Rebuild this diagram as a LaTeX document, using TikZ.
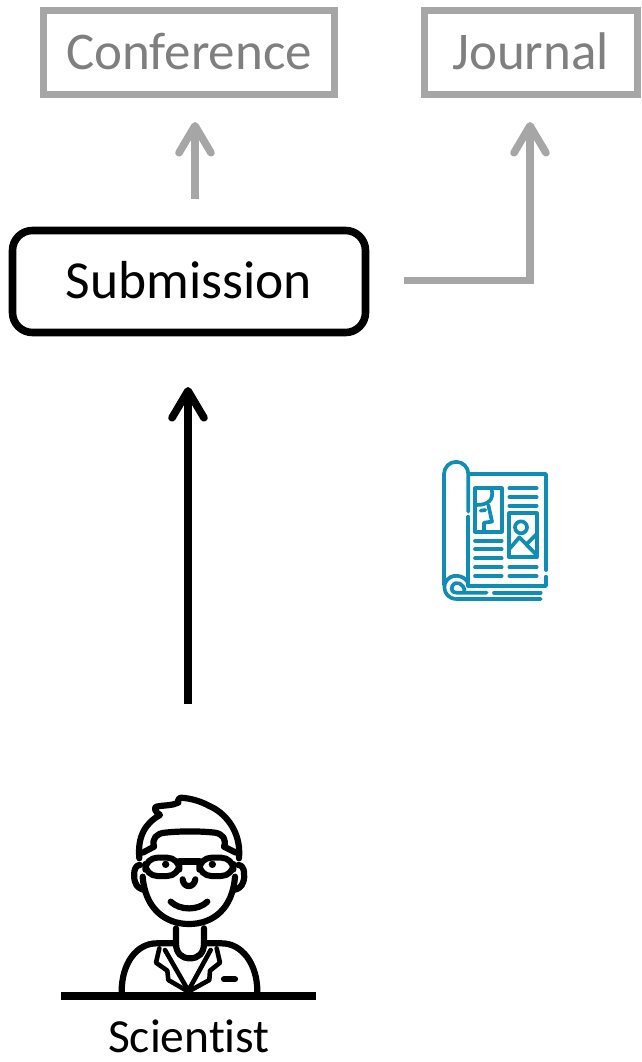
\documentclass[tikz,border=0pt]{standalone}
\usepackage{fontspec}
\setmainfont{Carlito}[Ligatures=NoCommon]
\usetikzlibrary{arrows.meta}
\definecolor{boxgray}{HTML}{A6A6A6}
\definecolor{txtgray}{HTML}{7F7F7F}
\definecolor{magblue}{HTML}{0F8DB5}
\tikzset{
  venue/.style={draw=boxgray,line width=7.6pt,rectangle,inner sep=0pt,text=txtgray,text depth=0pt,text height=35pt,font=\fontsize{53}{56}\selectfont,minimum height=84pt},
  subbox/.style={draw=black,line width=7.6pt,rectangle,rounded corners=20pt,inner sep=0pt,text=black,text depth=0pt,text height=33pt,font=\fontsize{53.5}{56}\selectfont,minimum width=353pt,minimum height=102pt},
  grayarrow/.style={draw=boxgray,line width=7.6pt,-{Straight Barb[length=27pt,width=32pt,round]}},
  blackarrow/.style={draw=black,line width=7.6pt,-{Straight Barb[length=27pt,width=32pt,round]}},
  person/.style={draw=black,line width=6.2pt,line cap=round,line join=round},
  mag/.style={draw=magblue,line width=3.7pt,line cap=round,line join=round},
}
\begin{document}
\begin{tikzpicture}[x=1pt,y=-1pt]
\useasboundingbox (0,0) rectangle (641,1062);
\node[venue,minimum width=291pt] (conf) at (189,52.5) {Conference};
\node[venue,minimum width=213pt] (jour) at (531,52.5) {\hspace{-1pt}Journal};
\node[subbox] (sub) at (189,281.5) {Submission};
\coordinate (confFrom) at (195,199);
\coordinate (confTo) at (195,122);
\coordinate (jourFrom) at (404,280.5);
\coordinate (jourBend) at (530,280.5);
\coordinate (jourTo) at (530,122);
\coordinate (sciFrom) at (188,704);
\coordinate (subTo) at (188,387);
\draw[grayarrow] (confFrom) -- (confTo);
\draw[grayarrow] (jourFrom) -- (jourBend) -- (jourTo);
\draw[blackarrow] (sciFrom) -- (subTo);
% magazine
\begin{scope}[shift={(420,450)},x=1/3*1pt,y=-1/3*1pt]
\draw[mag] (72,405) -- (72,72) arc[start angle=180,end angle=0,x radius=36.5,y radius=-36.5] -- (145,185);
\draw[mag] (145,200) -- (145,408) -- (378,408) -- (378,380);
\draw[mag] (378,360) -- (378,72) -- (150,72);
\draw[mag] (145,400) .. controls (135,375) and (90,365) .. (75,400) .. controls (68,425) and (85,447) .. (110,447) -- (362,447);
\draw[mag] (133,425) .. controls (135,400) and (105,390) .. (97,408) .. controls (92,420) and (98,428) .. (110,428) -- (200,428);
\draw[mag] (222,428) -- (362,428);
\draw[mag] (165,115) rectangle (245,245);
\draw[mag] (215,118) .. controls (222,150) and (205,165) .. (168,165);
\draw[mag] (205,165) -- (216,215) -- (192,218) -- (192,245);
\draw[mag] (182,182) -- (196,180);
\foreach \yy in {272,298,325,352,378} \draw[mag] (165,\yy) -- (245,\yy);
\foreach \yy in {115,141,167,352,378} \draw[mag] (268,\yy) -- (350,\yy);
\draw[mag] (268,190) rectangle (350,322);
\draw[mag] (303,232) circle[radius=18];
\draw[mag] (270,295) -- (298,262) -- (350,315);
\draw[mag] (320,282) -- (350,252);
\end{scope}
% scientist
\begin{scope}[shift={(50,780)},x=1/3*1pt,y=-1/3*1pt]
\draw[black,line width=8pt] (33,647) -- (798,647);
\draw[person] (215,635) .. controls (215,550) and (260,490) .. (320,490) -- (378,490) -- (378,445);
\draw[person] (622,635) .. controls (622,550) and (575,490) .. (515,490) -- (462,490) -- (462,445);
\draw[person] (378,490) .. controls (378,520) and (395,535) .. (420,535) .. controls (445,535) and (462,520) .. (462,490);
\draw[person,line width=4.6pt] (328,505) -- (318,548) -- (352,572) -- (355,600) -- (415,635) -- (478,600) -- (480,572) -- (510,548) -- (500,505);
\draw[person,line width=4.6pt] (345,510) -- (415,632) -- (482,510);
\draw[person] (522,598) -- (555,598);
\draw[person] (278,290) .. controls (285,385) and (345,432) .. (417,432) .. controls (490,432) and (548,385) .. (555,290);
\draw[person] (270,255) .. controls (250,255) and (250,290) .. (255,305) .. controls (260,322) and (272,328) .. (285,330);
\draw[person] (565,255) .. controls (585,255) and (585,290) .. (580,305) .. controls (575,322) and (563,328) .. (550,330);
\draw[person] (268,235) .. controls (262,170) and (285,130) .. (330,105) .. controls (315,95) and (312,85) .. (318,80) .. controls (340,75) and (365,78) .. (385,68) .. controls (382,60) and (385,55) .. (392,53) .. controls (425,55) and (455,65) .. (478,78) .. controls (520,95) and (575,150) .. (567,235);
\draw[person] (278,218) -- (312,200) .. controls (305,175) and (320,160) .. (345,158) .. controls (390,153) and (450,153) .. (495,158) .. controls (520,162) and (530,180) .. (522,200) -- (558,218);
\draw[person,line width=6pt,rounded corners=12pt] (286,233) rectangle (388,288);
\draw[person,line width=6pt,rounded corners=12pt] (448,233) rectangle (550,288);
\draw[person,line width=7pt] (388,243) -- (448,243);
\fill[black] (347,253) circle[radius=11];
\fill[black] (487,253) circle[radius=11];
\draw[person] (398,298) .. controls (400,325) and (432,325) .. (436,298);
\draw[person] (362,365) .. controls (390,392) and (445,392) .. (472,365);
\end{scope}
\node[anchor=base,inner sep=0pt,font=\fontsize{47.5}{52}\selectfont] (sci) at (189,1052) {Scientist};
\end{tikzpicture}
\end{document}
